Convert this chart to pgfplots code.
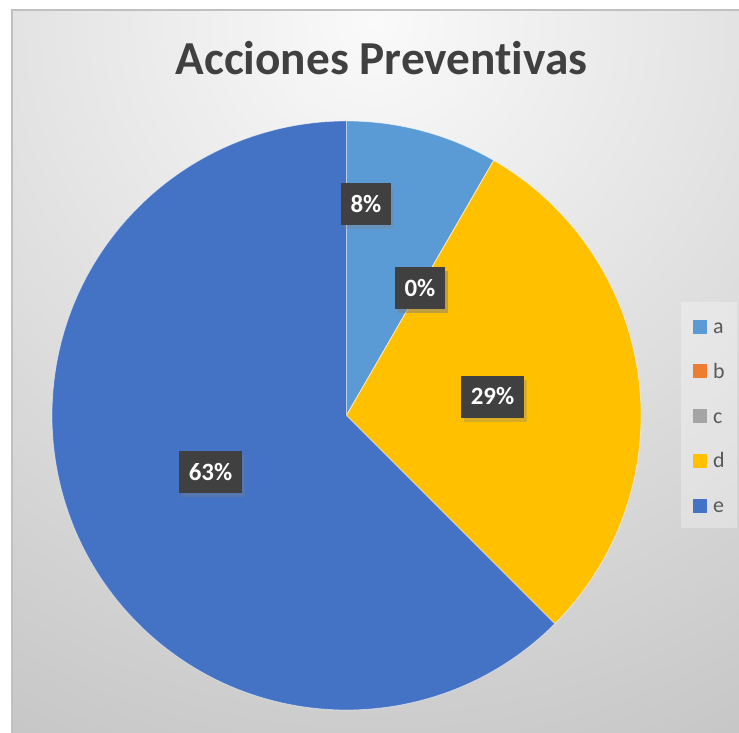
\documentclass[border=0pt]{standalone}
\usepackage{pgfplots}
\pgfplotsset{compat=1.18}
\usepackage{pgfplotstable}
\usepackage{fontspec}
\setmainfont[Ligatures={NoCommon}]{Carlito}
\usetikzlibrary{shadows}

\definecolor{pie0}{HTML}{5B9BD5}
\definecolor{pie1}{HTML}{ED7D31}
\definecolor{pie2}{HTML}{A5A5A5}
\definecolor{pie3}{HTML}{FFC000}
\definecolor{pie4}{HTML}{4472C4}
\definecolor{titlegray}{HTML}{404040}
\definecolor{leggray}{HTML}{595959}
\definecolor{lblfill}{HTML}{404040}
\definecolor{bgin}{HTML}{FAFAFA}
\definecolor{bgout}{HTML}{C6C6C6}
\definecolor{framegray}{HTML}{C0C0C0}

\pgfplotstableread{
slice value lx ly
a 2 0.0662 0.7182
b 0 0.2496 0.4329
c 0 0.2496 0.4329
d 7 0.4958 0.0645
e 15 -0.4618 -0.1919
}\piedata

\pgfplotsset{pielegend/.style={legend image code/.code={\fill[##1, fill opacity=1, draw=none] (0bp,0bp) rectangle (14bp,14bp);}}}
\tikzset{lbl/.style={fill=lblfill, text=white, font=\fontsize{25}{30}\selectfont\bfseries,
    minimum height=42bp, inner xsep=10bp, inner ysep=0bp,
    drop shadow={shadow xshift=3bp, shadow yshift=-4bp, opacity=0.3}}}

\begin{document}
\begin{tikzpicture}
\useasboundingbox (0,0) rectangle (739bp,733bp);
% ---- computations
\def\total{0}
\pgfplotsforeachungrouped \i in {0,...,4}{%
  \pgfplotstablegetelem{\i}{value}\of\piedata
  \pgfmathsetmacro\total{\total+\pgfplotsretval}%
}
\def\cum{0}
\pgfplotsforeachungrouped \i in {0,...,4}{%
  \pgfplotstablegetelem{\i}{value}\of\piedata
  \let\myv\pgfplotsretval
  \pgfmathsetmacro\sa{90-360*\cum/\total}%
  \pgfmathsetmacro\cum{\cum+\myv}%
  \pgfmathsetmacro\ea{90-360*\cum/\total}%
  \pgfmathtruncatemacro\pc{round(100*\myv/\total)}%
  \pgfplotstablegetelem{\i}{lx}\of\piedata \let\mylx\pgfplotsretval
  \pgfplotstablegetelem{\i}{ly}\of\piedata \let\myly\pgfplotsretval
  \expandafter\xdef\csname sa\i\endcsname{\sa}%
  \expandafter\xdef\csname ea\i\endcsname{\ea}%
  \expandafter\xdef\csname pc\i\endcsname{\pc}%
  \expandafter\xdef\csname lx\i\endcsname{\mylx}%
  \expandafter\xdef\csname ly\i\endcsname{\myly}%
}
% ---- background
\fill[white] (0,0) rectangle (739bp,733bp);
\begin{scope}
  \clip (12bp,0) rectangle (739bp,723bp);
  \fill[bgout] (0,0) rectangle (739bp,733bp);
  \shade[inner color=bgin, outer color=bgout] (375bp,713bp) circle (810bp);
\end{scope}
\draw[framegray, line width=2bp] (12bp,0) -- (12bp,723bp) -- (739bp,723bp);
% ---- title
\node[anchor=base, text=titlegray, font=\fontsize{47.5}{57}\selectfont\bfseries, inner sep=0]
  at (381.5bp,658bp) {Acciones Preventivas};
% ---- pie
\begin{axis}[
  at={(0,0)}, anchor=south west,
  scale only axis, width=739bp, height=733bp,
  xmin=-1.17657, xmax=1.33277, ymin=-1.07810, ymax=1.41087,
  hide axis, clip=false,
  legend entries={a,b,c,d,e},
  legend style={at={(axis description cs:0.92152,0.58799)}, anchor=north west,
    draw=none, fill=white, fill opacity=0.3, text opacity=1,
    inner xsep=12bp, inner ysep=14.5bp, row sep=26.75bp, column sep=6bp,
    font=\fontsize{22}{26}\selectfont, text=leggray,
    cells={anchor=base west},
    nodes={inner sep=0bp, text height=17bp, text depth=1bp}},
]
\addlegendimage{pielegend, fill=pie0}
\addlegendimage{pielegend, fill=pie1}
\addlegendimage{pielegend, fill=pie2}
\addlegendimage{pielegend, fill=pie3}
\addlegendimage{pielegend, fill=pie4}
\pgfplotsinvokeforeach{0,...,4}{
  \fill[pie#1, draw=white, draw opacity=0.5, line width=0.8bp]
    (axis cs:0,0) -- (axis cs:{cos(\csname sa#1\endcsname)},{sin(\csname sa#1\endcsname)})
    arc[start angle=\csname sa#1\endcsname, end angle=\csname ea#1\endcsname, radius=294.5bp] -- cycle;
}
\pgfplotsinvokeforeach{0,...,4}{
  \node[lbl] at (axis cs:\csname lx#1\endcsname,\csname ly#1\endcsname) {\csname pc#1\endcsname\%};
}
\end{axis}
\end{tikzpicture}
\end{document}
